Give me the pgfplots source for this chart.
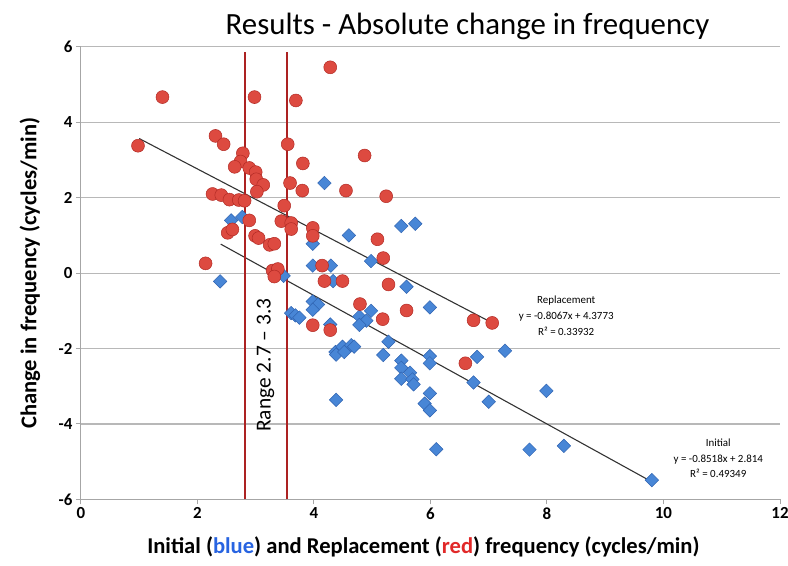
\documentclass[border=0pt]{standalone}
\usepackage{fontspec}
\setmainfont{Carlito}
\usepackage{pgfplots}
\pgfplotsset{compat=1.18}
\usetikzlibrary{calc}
\definecolor{ptRed}{RGB}{221,74,64}
\definecolor{ptRedEdge}{RGB}{178,42,36}
\definecolor{ptBlue}{RGB}{72,134,214}
\definecolor{ptBlueEdge}{RGB}{48,100,178}
\definecolor{rangeRed}{RGB}{172,34,34}
\definecolor{lblBlue}{RGB}{40,100,225}
\definecolor{lblRed}{RGB}{225,40,40}

\pgfplotstableread{
x y
2.58 1.40
2.77 1.49
4.18 2.39
3.98 0.78
2.39 -0.22
3.48 -0.07
3.98 0.20
4.29 0.20
4.33 -0.21
3.98 -0.75
4.07 -0.83
3.98 -0.97
3.61 -1.06
3.68 -1.12
3.75 -1.18
4.28 -1.36
4.60 1.00
5.50 1.25
5.74 1.31
4.98 0.32
5.59 -0.36
4.98 -1.00
5.99 -0.91
4.78 -1.15
4.90 -1.26
4.78 -1.37
5.28 -1.82
4.37 -2.09
4.49 -1.95
4.64 -1.91
4.69 -1.95
4.38 -2.16
4.52 -2.09
5.19 -2.17
5.50 -2.32
5.50 -2.51
5.50 -2.80
5.65 -2.64
5.69 -2.82
5.71 -2.95
5.99 -2.20
5.99 -2.39
6.80 -2.22
7.28 -2.06
6.74 -2.90
4.38 -3.36
5.99 -3.19
5.90 -3.46
5.99 -3.64
7.00 -3.41
7.99 -3.12
6.10 -4.67
7.70 -4.68
8.29 -4.58
9.80 -5.49
}\initialdata

\pgfplotstableread{
x y
1.40 4.67
2.98 4.67
3.69 4.58
0.98 3.38
2.31 3.64
2.45 3.42
3.55 3.42
3.81 2.91
2.78 3.18
2.74 2.96
2.64 2.82
2.89 2.79
3.00 2.68
3.01 2.49
3.13 2.34
3.02 2.16
3.59 2.39
3.80 2.19
2.26 2.10
2.41 2.07
2.55 1.95
2.71 1.94
2.81 1.92
3.49 1.79
2.89 1.40
3.44 1.38
3.61 1.33
3.61 1.17
3.98 1.20
3.98 0.99
2.52 1.07
2.60 1.16
2.99 0.99
3.05 0.93
3.24 0.75
3.32 0.78
2.14 0.26
3.29 0.07
3.38 0.11
3.32 -0.09
4.28 5.46
4.87 3.12
4.55 2.19
5.24 2.04
5.09 0.90
5.19 0.40
4.14 0.20
4.18 -0.21
4.49 -0.21
5.28 -0.30
4.79 -0.82
5.18 -1.22
5.59 -0.99
6.74 -1.25
7.06 -1.32
3.98 -1.38
4.28 -1.51
6.60 -2.39
}\replacementdata

\begin{document}
\begin{tikzpicture}
\begin{axis}[
  name=ax,
  scale only axis,
  width=700bp,height=453bp,
  xmin=0,xmax=12,ymin=-6,ymax=6,
  xtick={0,2,4,6,8,10,12},
  ytick={-6,-4,-2,0,2,4,6},
  xticklabels={0,2,4,6,8,10,12},
  yticklabels={-6,-4,-2,0,2,4,6},
  axis lines*=left,
  ymajorgrids=true,
  grid style={draw=black!28,line width=1.1pt},
  axis line style={draw=black!35,line width=1.1pt},
  tick style={draw=black!35,line width=1pt},
  tick align=outside,
  major tick length=5bp,
  tick label style={font=\bfseries\fontsize{17}{19}\selectfont},
  title={Results - Absolute change in frequency},
  title style={font=\fontsize{31}{34}\selectfont,at={(axis description cs:0.553,1)},anchor=south,yshift=-2bp},
  xlabel={Initial (\textcolor{lblBlue}{blue}) and Replacement (\textcolor{lblRed}{red}) frequency (cycles/min)},
  ylabel={Change in frequency (cycles/min)},
  label style={font=\bfseries\fontsize{22.7}{25}\selectfont},
  xlabel style={at={(axis description cs:0.49,-0.106)},anchor=center},
  ylabel style={at={(axis description cs:-0.073,0.5)},anchor=center},
  clip=false]

% Initial (blue diamonds)
\addplot[only marks,mark=square*,mark size=4.8pt,
  mark options={rotate=45,fill=ptBlue,draw=ptBlueEdge,line width=0.5pt}]
  table[x=x,y=y] {\initialdata};

% Replacement (red circles)
\addplot[only marks,mark=*,mark size=6.5pt,
  mark options={fill=ptRed,draw=ptRedEdge,line width=0.5pt}]
  table[x=x,y=y] {\replacementdata};

% linear trend lines
\addplot[draw=black!80,line width=1.1pt,no marks] coordinates {(1.0,3.571) (7.06,-1.318)};
\addplot[draw=black!80,line width=1.1pt,no marks] coordinates {(2.4,0.770) (9.8,-5.534)};

% range markers
\addplot[draw=rangeRed,line width=1.8pt,no marks] coordinates {(2.82,-6) (2.82,5.86)};
\addplot[draw=rangeRed,line width=1.8pt,no marks] coordinates {(3.54,-6) (3.54,5.86)};

\node[rotate=90,font=\fontsize{21.5}{24}\selectfont] at (axis cs:3.17,-2.44) {Range 2.7 -- 3.3};

\node[align=center,font=\fontsize{11}{16}\selectfont] at (axis cs:8.33,-1.12)
  {Replacement\\y = -0.8067x + 4.3773\\R² = 0.33932};
\node[align=center,font=\fontsize{11}{16}\selectfont] at (axis cs:10.94,-4.91)
  {Initial\\y = -0.8518x + 2.814\\R² = 0.49349};
\end{axis}
\pgfresetboundingbox
\path ($(ax.south west)+(-81bp,-66bp)$) rectangle ($(ax.north east)+(8bp,47bp)$);
\end{tikzpicture}
\end{document}
